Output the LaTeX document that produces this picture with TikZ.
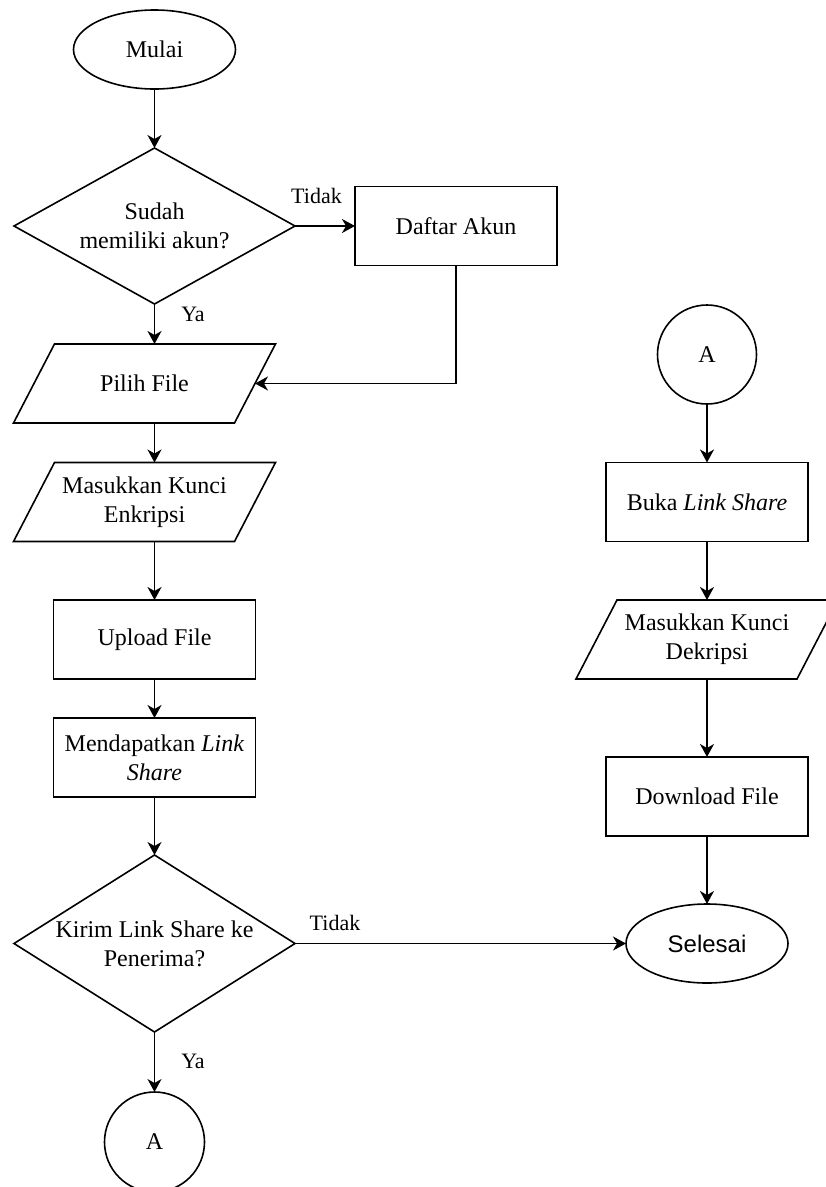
\documentclass[tikz,border=0pt]{standalone}
\usepackage{fontspec}
\setmainfont{Liberation Serif}
\newfontfamily\arialfont{Liberation Sans}
\usetikzlibrary{shapes.geometric,arrows.meta}
\newcommand{\drawio}[1]{\draw[shp] ([xshift=20.5pt]#1.north west) -- ([xshift=20.5pt]#1.north east) -- ([xshift=-20.5pt]#1.south east) -- ([xshift=-20.5pt]#1.south west) -- cycle;}
\tikzset{
  base/.style={font=\fontsize{24}{29}\selectfont, align=center, inner sep=0pt, outer sep=0pt, line width=1.6pt},
  shp/.style={line width=1.6pt, line join=miter},
  proc/.style={base, draw, rectangle, minimum width=202, minimum height=79},
  term/.style={base, draw, ellipse, minimum width=162, minimum height=79},
  conn/.style={base, draw, circle, minimum size=100},
  dec/.style={base, draw, diamond, minimum width=281},
  io/.style={base, minimum width=221, minimum height=79},
  txt/.style={base},
  arr/.style={line width=1.6pt, -{Stealth[length=13pt,width=14pt,inset=4pt]}},
  lbl/.style={font=\fontsize{22}{26}\selectfont, inner sep=0pt, anchor=base}
}
\begin{document}
\begin{tikzpicture}[x=1pt,y=-1pt]
\useasboundingbox[fill=white] (0,0) rectangle (826,1187);
% left column
\node[term] (mulai) at (154.5,49.5) {Mulai};
\node[dec, minimum height=156] (d1) at (154.5,226) {};
\node[txt] (d1t) at (154.5,226) {Sudah\\memiliki akun?};
\node[proc] (daftar) at (456,226) {Daftar Akun};
\node[io] (pilih) at (144.5,383.5) {Pilih File};
\drawio{pilih}
\node[io] (enkripsi) at (144.5,502) {Masukkan Kunci\\Enkripsi};
\drawio{enkripsi}
\node[proc] (upload) at (154.5,639.5) {Upload File};
\node[proc] (mendapat) at (154.5,757.5) {Mendapatkan \textit{Link}\\\textit{Share}};
\node[dec, minimum height=177] (d2) at (154.5,943.5) {};
\node[txt] (d2t) at (154.5,943.5) {Kirim Link Share ke\\Penerima?};
\node[conn] (a1) at (154.5,1142) {A};
% right column
\node[conn, minimum size=99] (a2) at (707,354.5) {A};
\node[proc] (buka) at (707,502) {Buka \textit{Link Share}};
\node[io] (dekripsi) at (707,639.5) {Masukkan Kunci\\Dekripsi};
\drawio{dekripsi}
\node[proc] (download) at (707,796.5) {Download File};
\node[term, font=\arialfont\fontsize{24}{29}\selectfont] (selesai) at (707,943.5) {Selesai};
% labels
\node[lbl] (t1) at (316.5,203) {Tidak};
\node[lbl] (y1) at (193,321) {Ya};
\node[lbl] (t2) at (335,930) {Tidak};
\node[lbl] (y2) at (193,1068) {Ya};
% connectors
\draw[arr] (mulai.south) -- (d1.north);
\draw[arr] (d1.east) -- (daftar.west);
\draw[arr] (d1.south) -- (d1.south |- pilih.north);
\draw[arr] (daftar.south) |- (pilih.east);
\draw[arr] (d1.south |- pilih.south) -- (d1.south |- enkripsi.north);
\draw[arr] (d1.south |- enkripsi.south) -- (upload.north);
\draw[arr] (upload.south) -- (mendapat.north);
\draw[arr] (mendapat.south) -- (d2.north);
\draw[arr] (d2.east) -- (selesai.west);
\draw[arr] (d2.south) -- (a1.north);
\draw[arr] (a2.south) -- (buka.north);
\draw[arr] (buka.south) -- (dekripsi.north);
\draw[arr] (dekripsi.south) -- (download.north);
\draw[arr] (download.south) -- (selesai.north);
\end{tikzpicture}
\end{document}
